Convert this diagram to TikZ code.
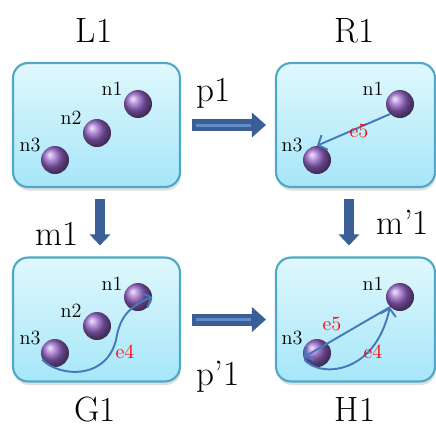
\documentclass[tikz,border=0pt]{standalone}
\usepackage{tikz}
\usetikzlibrary{arrows.meta, shadows}
\definecolor{boxTop}{RGB}{224,248,253}
\definecolor{boxBot}{RGB}{166,230,249}
\definecolor{boxLine}{RGB}{78,168,200}
\definecolor{ballC}{RGB}{150,100,200}
\definecolor{bigArrow}{RGB}{58,94,150}
\definecolor{bigArrowHi}{RGB}{98,140,198}
\definecolor{linkC}{RGB}{68,122,188}

\tikzset{
  graphbox/.style={draw=boxLine, line width=1.2pt, rounded corners=0.3cm,
    top color=boxTop, bottom color=boxBot, minimum height=2.48cm,
    drop shadow={shadow xshift=0.5pt, shadow yshift=-2pt, opacity=0.25}},
  vtx/.style={circle, shading=ball, ball color=ballC, minimum size=0.56cm, inner sep=0pt},
  nlab/.style={font=\fontsize{11.5}{12}\selectfont, inner sep=0pt},
  elab/.style={nlab, text=red},
  biglab/.style={font=\fontsize{20}{22}\selectfont, inner sep=0pt, anchor=base},
  link/.style={draw=linkC, line width=1.1pt, -{Straight Barb[length=4pt, width=9pt]}},
  bigarrow/.style={bigArrow, line width=0.24cm, -{Triangle[length=0.28cm, width=0.48cm]}},
  bigstripe/.style={bigArrowHi, line width=0.06cm},
  bigarrowv/.style={bigArrow, line width=0.2cm, -{Triangle[length=0.22cm, width=0.4cm]}},
}

\begin{document}
\begin{tikzpicture}[x=0.02cm, y=-0.02cm]
  \useasboundingbox (0,0) rectangle (436,430);

  % the four graphs
  \node[graphbox, minimum width=3.34cm] (boxL) at (96.5,125) {};
  \node[graphbox, minimum width=3.18cm] (boxR) at (355.5,125) {};
  \node[graphbox, minimum width=3.34cm] (boxG) at (96.5,319.5) {};
  \node[graphbox, minimum width=3.18cm] (boxH) at (355.5,319.5) {};

  \node[biglab] (labL) at (94,42) {L1};
  \node[biglab] (labR) at (355,42) {R1};
  \node[biglab] (labG) at (95,421) {G1};
  \node[biglab] (labH) at (355,421) {H1};
  \node[biglab] (labm) at (57,245) {m1};
  \node[biglab] (labmm) at (403,234) {m'1};
  \node[biglab] (labp) at (214,101) {p1};
  \node[biglab] (labpp) at (218,385) {p'1};

  % rule and match arrows
  \draw[bigarrow, shorten <=0.22cm, shorten >=0.18cm] (boxL.east) -- (boxR.west);
  \draw[bigstripe, shorten <=0.3cm, shorten >=0.48cm] (boxL.east) -- (boxR.west);
  \draw[bigarrow, shorten <=0.22cm, shorten >=0.18cm] (boxG.east) -- (boxH.west);
  \draw[bigstripe, shorten <=0.3cm, shorten >=0.48cm] (boxG.east) -- (boxH.west);
  \draw[bigarrowv, shorten <=0.22cm, shorten >=0.22cm] ([xshift=0.07cm]boxL.south) -- ([xshift=0.07cm]boxG.north);
  \draw[bigarrowv, shorten <=0.22cm, shorten >=0.22cm] ([xshift=-0.13cm]boxR.south) -- ([xshift=-0.13cm]boxH.north);

  % L1
  \node[vtx] (l1) at (138,104) {};
  \node[vtx] (l2) at (97,133) {};
  \node[vtx] (l3) at (55,160) {};
  \node[nlab] (l1t) at ([shift={(-26,-15)}]l1) {n1};
  \node[nlab] (l2t) at ([shift={(-26,-15)}]l2) {n2};
  \node[nlab] (l3t) at ([shift={(-25,-15)}]l3) {n3};

  % R1
  \node[vtx] (r1) at (400,104) {};
  \node[vtx] (r3) at (317,160) {};
  \node[nlab] (r1t) at ([shift={(-27,-15)}]r1) {n1};
  \node[nlab] (r3t) at ([shift={(-25,-15)}]r3) {n3};
  \draw[link] (r1.225) -- (r3.north);
  \node[elab] (r5t) at (359,131) {e5};

  % G1
  \node[vtx] (g1) at (138,297) {};
  \node[vtx] (g2) at (97,326) {};
  \node[vtx] (g3) at (55,353) {};
  \node[nlab] (g1t) at ([shift={(-26,-13)}]g1) {n1};
  \node[nlab] (g2t) at ([shift={(-26,-15)}]g2) {n2};
  \node[nlab] (g3t) at ([shift={(-25,-15)}]g3) {n3};
  \draw[link] (g3.208) .. controls (60,378) and (110,380) .. (117,335)
    .. controls (121,315) and (132,305) .. (g1.east);
  \node[elab] (g4t) at (125,352) {e4};

  % H1
  \node[vtx] (h1) at (400,297) {};
  \node[vtx] (h3) at (317,353) {};
  \node[nlab] (h1t) at ([shift={(-27,-13)}]h1) {n1};
  \node[nlab] (h3t) at ([shift={(-25,-15)}]h3) {n3};
  \draw[link] (h1.225) -- (h3.198);
  \draw[link] (h3.207) .. controls (320,378) and (375,375) .. (h1.225);
  \node[elab] (h5t) at (332,324) {e5};
  \node[elab] (h4t) at (373,352) {e4};
\end{tikzpicture}
\end{document}
